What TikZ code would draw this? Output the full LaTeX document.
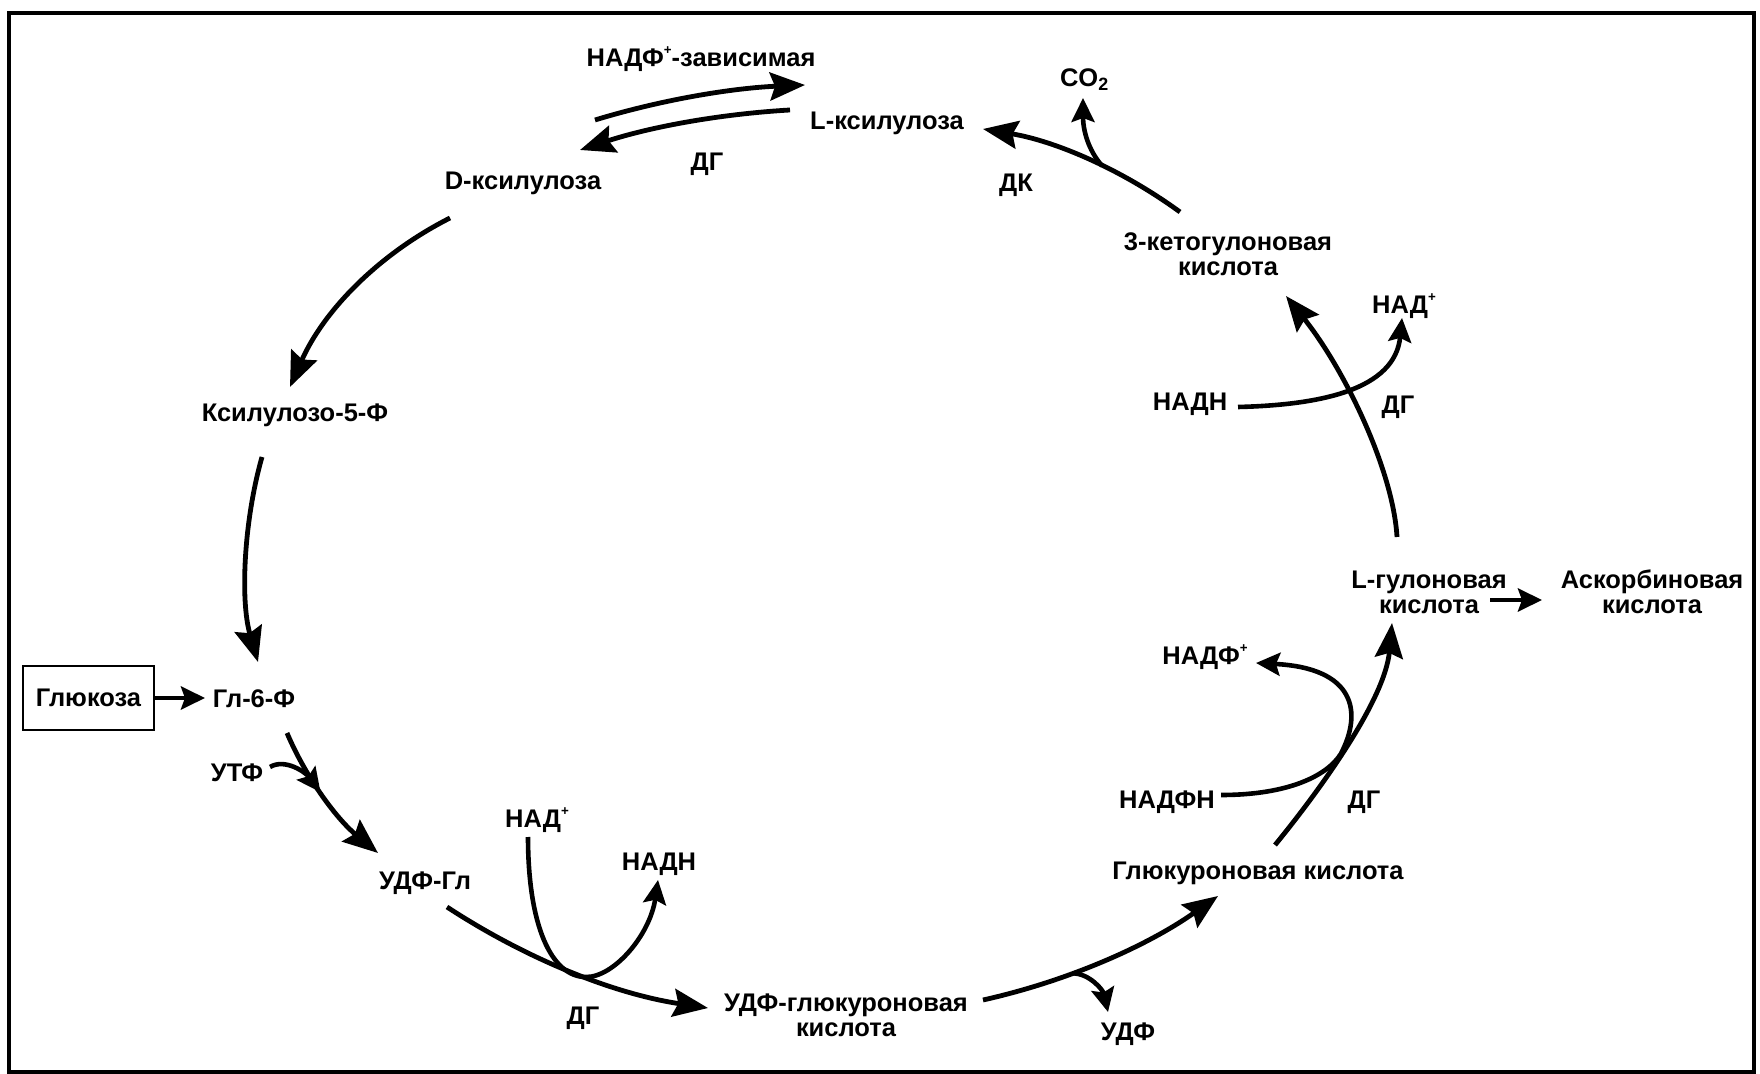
\documentclass[tikz,border=0pt]{standalone}
\usepackage{fontspec}
\setmainfont{Liberation Sans}
\usetikzlibrary{arrows.meta,calc}
\newcommand{\chemfont}{\fontsize{7.25}{7.1}\selectfont\bfseries}
\newcommand{\chg}{\raisebox{0.9ex}{\fontsize{3.8}{3.8}\selectfont+}}

\begin{document}
\begin{tikzpicture}[x=0.1mm,y=-0.1mm,
  chem/.style={font=\chemfont,inner sep=0pt,align=center},
  rx/.style={line width=0.48mm,-{Stealth[length=3.5mm,width=2.8mm,inset=0.5mm]}},
  aux/.style={line width=0.46mm,-{Stealth[length=2.4mm,width=2.3mm,inset=0.4mm]}}]
  % page and outer frame (pixel units, y pointing down)
  \useasboundingbox (0,0) rectangle (1760,1074);
  \draw[line width=0.35mm] (9,13) rectangle (1754,1072);

  % compounds of the cycle
  \node[chem,draw,line width=0.28mm,minimum width=13.1mm,minimum height=6.4mm] (glc) at (88.5,698) {Глюкоза};
  \node[chem] (g6p) at (254,699) {Гл-6-Ф};
  \node[chem] (udpg) at (425,883) {УДФ-Гл};
  \node[chem] (udpglcA) at (846,1015) {УДФ-глюкуроновая\\кислота};
  \node[chem] (glcA) at (1258,873) {Глюкуроновая кислота};
  \node[chem] (gulon) at (1429,592) {L-гулоновая\\кислота};
  \node[chem] (asc) at (1652,592) {Аскорбиновая\\кислота};
  \node[chem] (keto) at (1228,254) {3-кетогулоновая\\кислота};
  \node[chem] (lxyl) at (887,123) {L-ксилулоза};
  \node[chem] (dxyl) at (523,183) {D-ксилулоза};
  \node[chem] (x5p) at (295,415) {Ксилулозо-5-Ф};

  % cofactors, by-products and enzymes
  \node[chem] (utp) at (237,773) {УТФ};
  \node[chem] (nad2) at (537,820) {НАД\chg};
  \node[chem] (nadh2) at (659,864) {НАДН};
  \node[chem] (dg4) at (583,1018) {ДГ};
  \node[chem] (udp) at (1128,1034) {УДФ};
  \node[chem] (nadph) at (1167,802) {НАДФН};
  \node[chem] (nadp) at (1205,657) {НАДФ\chg};
  \node[chem] (dg3) at (1364,802) {ДГ};
  \node[chem] (nadh1) at (1190,404) {НАДН};
  \node[chem] (nad1) at (1404,306) {НАД\chg};
  \node[chem] (dg2) at (1398,407) {ДГ};
  \node[chem] (co2) at (1085,80) {CO\textsubscript{2}};
  \node[chem] (dk) at (1016,185) {ДК};
  \node[chem] (dg1) at (707,164) {ДГ};
  \node[chem] (nadpdep) at (701,59) {НАДФ\chg-зависимая};

  % glucose enters as Гл-6-Ф
  \draw[aux] (glc.east) -- ($(g6p)+(-49,-1)$);

  % Гл-6-Ф -> УДФ-Гл, UTP joins
  \draw[rx] ($(g6p)+(33,34)$) .. controls +(20,47) and +(-40,-33) .. ($(udpg)+(-47,-30)$) coordinate[pos=0.45] (j2);
  \draw[aux] ($(utp)+(33,-6)$) .. controls +(15,-9) and +(-15,-20) .. (j2);

  % УДФ-Гл -> УДФ-глюкуроновая, NAD+ -> NADH
  \draw[rx] ($(udpg)+(22,24)$) .. controls +(81,53) and +(-93,-14) .. ($(udpglcA)+(-138,-7)$) coordinate[pos=0.55] (j3);
  \draw[aux] ($(nad2)+(-9,17)$) .. controls +(0,88) and +(-35,0) .. (j3)
    .. controls +(28,0) and +(-8,55) .. ($(nadh2)+(-1,16)$);

  % УДФ-глюкуроновая -> глюкуроновая, UDP leaves
  \draw[rx] ($(udpglcA)+(137,-15)$) .. controls +(85,-19) and +(-71,50) .. ($(glcA)+(-40,23)$) coordinate[pos=0.36] (j4);
  \draw[aux] (j4) .. controls +(17,0) and +(-5,-22) .. ($(udp)+(-20,-22)$);

  % глюкуроновая -> L-гулоновая, NADPH -> NADP+
  \draw[rx] ($(glcA)+(17,-28)$) .. controls +(45,-55) and +(-7,77) .. ($(gulon)+(-37,31)$) coordinate[pos=0.45] (j5);
  \draw[aux] ($(nadph)+(54,-7)$) .. controls +(69,0) and +(-13,21) .. (j5)
    .. controls +(22,-42) and +(99,5) .. ($(nadp)+(51,6)$);

  % side branch to ascorbate
  \draw[aux] ($(gulon)+(61,8)$) -- ($(asc)+(-110,8)$);

  % L-гулоновая -> 3-кетогулоновая, NADH -> NAD+
  \draw[rx] ($(gulon)+(-32,-55)$) .. controls +(-4,-67) and +(59,74) .. ($(keto)+(58,42)$);
  \draw[aux] ($(nadh1)+(48,3)$) .. controls +(82,-2) and +(-7,72) .. ($(nad1)+(-2,12)$);

  % decarboxylation to L-ксилулоза
  \draw[rx] ($(keto)+(-48,-42)$) .. controls +(-59,-43) and +(72,12) .. ($(lxyl)+(96,6)$) coordinate[pos=0.42] (j1);
  \draw[aux] (j1) .. controls +(-14,-16) and +(0,32) .. ($(co2)+(-2,18)$);

  % L-ксилулоза <-> D-ксилулоза
  \draw[rx] ($(dxyl)+(72,-63)$) .. controls +(69,-21) and +(-71,3) .. ($(lxyl)+(-82,-38)$);
  \draw[rx] ($(lxyl)+(-97,-13)$) .. controls +(-70,4) and +(70,-23) .. ($(dxyl)+(57,-33)$);

  % back down to Гл-6-Ф
  \draw[rx] ($(dxyl)+(-73,35)$) .. controls +(-73,37) and +(33,-75) .. ($(x5p)+(-5,-28)$);
  \draw[rx] ($(x5p)+(-33,42)$) .. controls +(-18,63) and +(-18,-62) .. ($(g6p)+(4,-37)$);
\end{tikzpicture}
\end{document}
